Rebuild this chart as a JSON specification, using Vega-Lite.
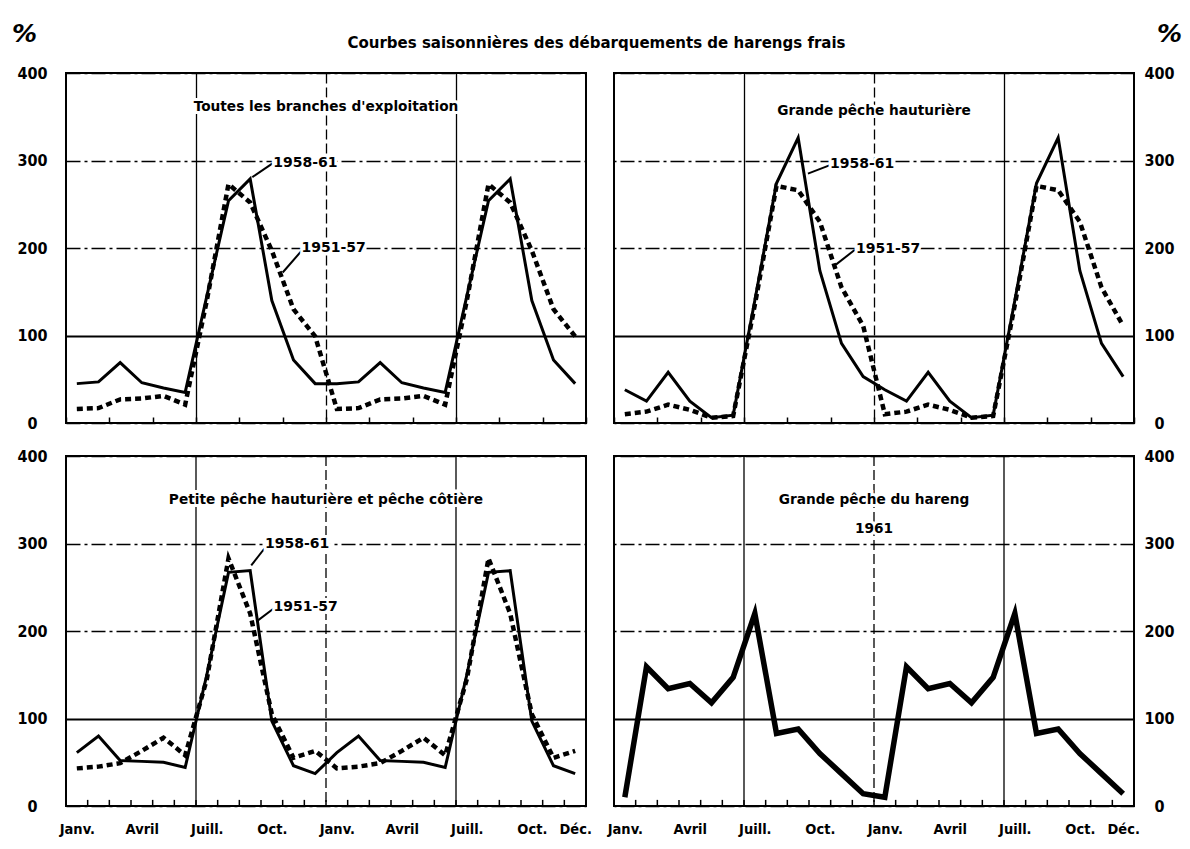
{
  "$schema": "https://vega.github.io/schema/vega-lite/v6.json",
  "padding": {"left": 10, "top": 20, "right": 5, "bottom": 5},
  "background": "white",
  "title": {"text": "Courbes saisonnières des débarquements de harengs frais", "font": "DejaVu Sans", "fontSize": 15, "fontWeight": "bold", "color": "black", "anchor": "middle", "offset": -31},
  "config": {
    "view": {"stroke": "black", "strokeWidth": 2},
    "axis": {"labelColor": "black", "labelFont": "DejaVu Sans Condensed, DejaVu Sans", "labelFontWeight": "bold", "titleColor": "black"}
  },
  "datasets": {
    "curves": [
      {"panel":"TL","series":"1958-61","month":1,"value":45},{"panel":"TL","series":"1958-61","month":2,"value":47},{"panel":"TL","series":"1958-61","month":3,"value":69},{"panel":"TL","series":"1958-61","month":4,"value":46},{"panel":"TL","series":"1958-61","month":5,"value":40},{"panel":"TL","series":"1958-61","month":6,"value":35},{"panel":"TL","series":"1958-61","month":7,"value":145},{"panel":"TL","series":"1958-61","month":8,"value":254},{"panel":"TL","series":"1958-61","month":9,"value":279},{"panel":"TL","series":"1958-61","month":10,"value":140},{"panel":"TL","series":"1958-61","month":11,"value":72},{"panel":"TL","series":"1958-61","month":12,"value":45},
      {"panel":"TL","series":"1958-61","month":13,"value":45},{"panel":"TL","series":"1958-61","month":14,"value":47},{"panel":"TL","series":"1958-61","month":15,"value":69},{"panel":"TL","series":"1958-61","month":16,"value":46},{"panel":"TL","series":"1958-61","month":17,"value":40},{"panel":"TL","series":"1958-61","month":18,"value":35},{"panel":"TL","series":"1958-61","month":19,"value":145},{"panel":"TL","series":"1958-61","month":20,"value":254},{"panel":"TL","series":"1958-61","month":21,"value":279},{"panel":"TL","series":"1958-61","month":22,"value":140},{"panel":"TL","series":"1958-61","month":23,"value":72},{"panel":"TL","series":"1958-61","month":24,"value":45},
      {"panel":"TL","series":"1951-57","month":1,"value":16},{"panel":"TL","series":"1951-57","month":2,"value":17},{"panel":"TL","series":"1951-57","month":3,"value":27},{"panel":"TL","series":"1951-57","month":4,"value":28},{"panel":"TL","series":"1951-57","month":5,"value":31},{"panel":"TL","series":"1951-57","month":6,"value":21},{"panel":"TL","series":"1951-57","month":7,"value":140},{"panel":"TL","series":"1951-57","month":8,"value":273},{"panel":"TL","series":"1951-57","month":9,"value":252},{"panel":"TL","series":"1951-57","month":10,"value":197},{"panel":"TL","series":"1951-57","month":11,"value":130},{"panel":"TL","series":"1951-57","month":12,"value":99},
      {"panel":"TL","series":"1951-57","month":13,"value":16},{"panel":"TL","series":"1951-57","month":14,"value":17},{"panel":"TL","series":"1951-57","month":15,"value":27},{"panel":"TL","series":"1951-57","month":16,"value":28},{"panel":"TL","series":"1951-57","month":17,"value":31},{"panel":"TL","series":"1951-57","month":18,"value":21},{"panel":"TL","series":"1951-57","month":19,"value":140},{"panel":"TL","series":"1951-57","month":20,"value":273},{"panel":"TL","series":"1951-57","month":21,"value":252},{"panel":"TL","series":"1951-57","month":22,"value":197},{"panel":"TL","series":"1951-57","month":23,"value":130},{"panel":"TL","series":"1951-57","month":24,"value":99},
      {"panel":"TR","series":"1958-61","month":1,"value":38},{"panel":"TR","series":"1958-61","month":2,"value":25},{"panel":"TR","series":"1958-61","month":3,"value":58},{"panel":"TR","series":"1958-61","month":4,"value":25},{"panel":"TR","series":"1958-61","month":5,"value":6},{"panel":"TR","series":"1958-61","month":6,"value":9},{"panel":"TR","series":"1958-61","month":7,"value":140},{"panel":"TR","series":"1958-61","month":8,"value":274},{"panel":"TR","series":"1958-61","month":9,"value":326},{"panel":"TR","series":"1958-61","month":10,"value":174},{"panel":"TR","series":"1958-61","month":11,"value":91},{"panel":"TR","series":"1958-61","month":12,"value":53},
      {"panel":"TR","series":"1958-61","month":13,"value":38},{"panel":"TR","series":"1958-61","month":14,"value":25},{"panel":"TR","series":"1958-61","month":15,"value":58},{"panel":"TR","series":"1958-61","month":16,"value":25},{"panel":"TR","series":"1958-61","month":17,"value":6},{"panel":"TR","series":"1958-61","month":18,"value":9},{"panel":"TR","series":"1958-61","month":19,"value":140},{"panel":"TR","series":"1958-61","month":20,"value":274},{"panel":"TR","series":"1958-61","month":21,"value":326},{"panel":"TR","series":"1958-61","month":22,"value":174},{"panel":"TR","series":"1958-61","month":23,"value":91},{"panel":"TR","series":"1958-61","month":24,"value":53},
      {"panel":"TR","series":"1951-57","month":1,"value":10},{"panel":"TR","series":"1951-57","month":2,"value":13},{"panel":"TR","series":"1951-57","month":3,"value":21},{"panel":"TR","series":"1951-57","month":4,"value":15},{"panel":"TR","series":"1951-57","month":5,"value":6},{"panel":"TR","series":"1951-57","month":6,"value":8},{"panel":"TR","series":"1951-57","month":7,"value":135},{"panel":"TR","series":"1951-57","month":8,"value":271},{"panel":"TR","series":"1951-57","month":9,"value":266},{"panel":"TR","series":"1951-57","month":10,"value":230},{"panel":"TR","series":"1951-57","month":11,"value":155},{"panel":"TR","series":"1951-57","month":12,"value":111},
      {"panel":"TR","series":"1951-57","month":13,"value":10},{"panel":"TR","series":"1951-57","month":14,"value":13},{"panel":"TR","series":"1951-57","month":15,"value":21},{"panel":"TR","series":"1951-57","month":16,"value":15},{"panel":"TR","series":"1951-57","month":17,"value":6},{"panel":"TR","series":"1951-57","month":18,"value":8},{"panel":"TR","series":"1951-57","month":19,"value":135},{"panel":"TR","series":"1951-57","month":20,"value":271},{"panel":"TR","series":"1951-57","month":21,"value":266},{"panel":"TR","series":"1951-57","month":22,"value":230},{"panel":"TR","series":"1951-57","month":23,"value":155},{"panel":"TR","series":"1951-57","month":24,"value":111},
      {"panel":"BL","series":"1958-61","month":1,"value":61},{"panel":"BL","series":"1958-61","month":2,"value":80},{"panel":"BL","series":"1958-61","month":3,"value":52},{"panel":"BL","series":"1958-61","month":4,"value":51},{"panel":"BL","series":"1958-61","month":5,"value":50},{"panel":"BL","series":"1958-61","month":6,"value":44},{"panel":"BL","series":"1958-61","month":7,"value":150},{"panel":"BL","series":"1958-61","month":8,"value":267},{"panel":"BL","series":"1958-61","month":9,"value":269},{"panel":"BL","series":"1958-61","month":10,"value":97},{"panel":"BL","series":"1958-61","month":11,"value":46},{"panel":"BL","series":"1958-61","month":12,"value":37},
      {"panel":"BL","series":"1958-61","month":13,"value":61},{"panel":"BL","series":"1958-61","month":14,"value":80},{"panel":"BL","series":"1958-61","month":15,"value":52},{"panel":"BL","series":"1958-61","month":16,"value":51},{"panel":"BL","series":"1958-61","month":17,"value":50},{"panel":"BL","series":"1958-61","month":18,"value":44},{"panel":"BL","series":"1958-61","month":19,"value":150},{"panel":"BL","series":"1958-61","month":20,"value":267},{"panel":"BL","series":"1958-61","month":21,"value":269},{"panel":"BL","series":"1958-61","month":22,"value":97},{"panel":"BL","series":"1958-61","month":23,"value":46},{"panel":"BL","series":"1958-61","month":24,"value":37},
      {"panel":"BL","series":"1951-57","month":1,"value":43},{"panel":"BL","series":"1951-57","month":2,"value":45},{"panel":"BL","series":"1951-57","month":3,"value":49},{"panel":"BL","series":"1951-57","month":4,"value":63},{"panel":"BL","series":"1951-57","month":5,"value":78},{"panel":"BL","series":"1951-57","month":6,"value":58},{"panel":"BL","series":"1951-57","month":7,"value":145},{"panel":"BL","series":"1951-57","month":8,"value":283},{"panel":"BL","series":"1951-57","month":9,"value":220},{"panel":"BL","series":"1951-57","month":10,"value":105},{"panel":"BL","series":"1951-57","month":11,"value":55},{"panel":"BL","series":"1951-57","month":12,"value":63},
      {"panel":"BL","series":"1951-57","month":13,"value":43},{"panel":"BL","series":"1951-57","month":14,"value":45},{"panel":"BL","series":"1951-57","month":15,"value":49},{"panel":"BL","series":"1951-57","month":16,"value":63},{"panel":"BL","series":"1951-57","month":17,"value":78},{"panel":"BL","series":"1951-57","month":18,"value":58},{"panel":"BL","series":"1951-57","month":19,"value":145},{"panel":"BL","series":"1951-57","month":20,"value":283},{"panel":"BL","series":"1951-57","month":21,"value":220},{"panel":"BL","series":"1951-57","month":22,"value":105},{"panel":"BL","series":"1951-57","month":23,"value":55},{"panel":"BL","series":"1951-57","month":24,"value":63},
      {"panel":"BR","series":"1961","month":1,"value":10},{"panel":"BR","series":"1961","month":2,"value":159},{"panel":"BR","series":"1961","month":3,"value":134},{"panel":"BR","series":"1961","month":4,"value":140},{"panel":"BR","series":"1961","month":5,"value":118},{"panel":"BR","series":"1961","month":6,"value":147},{"panel":"BR","series":"1961","month":7,"value":220},{"panel":"BR","series":"1961","month":8,"value":83},{"panel":"BR","series":"1961","month":9,"value":88},{"panel":"BR","series":"1961","month":10,"value":60},{"panel":"BR","series":"1961","month":11,"value":37},{"panel":"BR","series":"1961","month":12,"value":14},
      {"panel":"BR","series":"1961","month":13,"value":10},{"panel":"BR","series":"1961","month":14,"value":159},{"panel":"BR","series":"1961","month":15,"value":134},{"panel":"BR","series":"1961","month":16,"value":140},{"panel":"BR","series":"1961","month":17,"value":118},{"panel":"BR","series":"1961","month":18,"value":147},{"panel":"BR","series":"1961","month":19,"value":220},{"panel":"BR","series":"1961","month":20,"value":83},{"panel":"BR","series":"1961","month":21,"value":88},{"panel":"BR","series":"1961","month":22,"value":60},{"panel":"BR","series":"1961","month":23,"value":37},{"panel":"BR","series":"1961","month":24,"value":14}
    ],
    "notes": [
      {"panel":"TL","label":"1958-61","month":11.55,"value":297},
      {"panel":"TL","label":"1951-57","month":12.85,"value":200},
      {"panel":"TR","label":"1958-61","month":11.95,"value":296},
      {"panel":"TR","label":"1951-57","month":13.15,"value":199},
      {"panel":"BL","label":"1958-61","month":11.17,"value":299},
      {"panel":"BL","label":"1951-57","month":11.56,"value":228}
    ],
    "leaders": [
      {"panel":"TL","month":10.05,"value":297,"month2":9.1,"value2":281},
      {"panel":"TL","month":11.45,"value":199,"month2":10.5,"value2":172},
      {"panel":"TR","month":10.5,"value":295,"month2":9.45,"value2":285},
      {"panel":"TR","month":11.62,"value":198,"month2":10.74,"value2":181},
      {"panel":"BL","month":9.65,"value":294,"month2":9.05,"value2":275},
      {"panel":"BL","month":10.1,"value":226,"month2":9.3,"value2":211}
    ],
    "titles": [
      {"panel":"TL","text":"Toutes les branches d'exploitation","month":12.5,"value":361},
      {"panel":"TR","text":"Grande pêche hauturière","month":12.5,"value":357},
      {"panel":"BL","text":"Petite pêche hauturière et pêche côtière","month":12.5,"value":350},
      {"panel":"BR","text":"Grande pêche du hareng","month":12.5,"value":350},
      {"panel":"BR","text":"1961","month":12.5,"value":317}
    ],
    "boundaries": [
      {"month":1.5},{"month":2.5},{"month":3.5},{"month":4.5},{"month":5.5},{"month":6.5},{"month":7.5},{"month":8.5},{"month":9.5},{"month":10.5},{"month":11.5},{"month":12.5},
      {"month":13.5},{"month":14.5},{"month":15.5},{"month":16.5},{"month":17.5},{"month":18.5},{"month":19.5},{"month":20.5},{"month":21.5},{"month":22.5},{"month":23.5}
    ]
  },
  "columns": 2,
  "spacing": {"row": 33, "column": 28},
  "bounds": "flush",
  "concat": [
    {
      "width": 520, "height": 350,
      "layer": [
        {"data": {"name": "curves"}, "transform": [{"filter": "datum.panel == 'TL' && datum.series == '1951-57'"}],
         "mark": {"type": "line", "color": "black", "strokeWidth": 4.5, "strokeDash": [6, 4]},
         "encoding": {
           "x": {"field": "month", "type": "quantitative", "scale": {"domain": [0.5, 24.5], "nice": false, "zero": false},
                 "axis": {"values": [0.5,1.5,2.5,3.5,4.5,5.5,6.5,7.5,8.5,9.5,10.5,11.5,12.5,13.5,14.5,15.5,16.5,17.5,18.5,19.5,20.5,21.5,22.5,23.5,24.5], "title": null, "labels": false, "domain": false, "ticks": true, "tickSize": -6, "tickWidth": 1.5, "tickColor": "black", "grid": true, "gridColor": "black", "gridWidth": 1.3, "gridOpacity": {"condition": {"test": "datum.value == 6.5 || datum.value == 12.5 || datum.value == 18.5", "value": 1}, "value": 0}, "gridDash": {"condition": {"test": "datum.value == 12.5", "value": [10, 4]}, "value": [1, 0]}}},
           "y": {"field": "value", "type": "quantitative", "scale": {"domain": [0, 400], "nice": false},
                 "axis": {"orient": "left", "values": [0, 100, 200, 300, 400], "ticks": false, "domain": false, "labelAlign": "center", "labelBaseline": "middle", "labelPadding": 34, "labelFontSize": 16, "grid": true, "gridColor": "black", "gridWidth": {"condition": {"test": "datum.value == 100", "value": 2}, "value": 1.3}, "gridDash": {"condition": {"test": "datum.value == 100", "value": [1, 0]}, "value": [14, 4, 3, 4]}, "title": "%", "titleAngle": 0, "titleX": -42, "titleY": -40, "titleAlign": "center", "titleBaseline": "middle", "titleFont": "DejaVu Sans", "titleFontSize": 25, "titleFontWeight": "bold", "titleFontStyle": "italic"}}
         }},
        {"data": {"name": "curves"}, "transform": [{"filter": "datum.panel == 'TL' && datum.series == '1958-61'"}],
         "mark": {"type": "line", "color": "black", "strokeWidth": 3},
         "encoding": {"x": {"field": "month", "type": "quantitative"}, "y": {"field": "value", "type": "quantitative"}}},
        {"data": {"name": "leaders"}, "transform": [{"filter": "datum.panel == 'TL'"}],
         "mark": {"type": "rule", "color": "black", "strokeWidth": 2},
         "encoding": {"x": {"field": "month", "type": "quantitative"}, "y": {"field": "value", "type": "quantitative"}, "x2": {"field": "month2"}, "y2": {"field": "value2"}}},
        {"data": {"name": "notes"}, "transform": [{"filter": "datum.panel == 'TL'"}],
         "mark": {"type": "text", "font": "DejaVu Sans", "fontSize": 14, "fontWeight": "bold", "stroke": "white", "strokeWidth": 6, "fill": "white"},
         "encoding": {"x": {"field": "month", "type": "quantitative"}, "y": {"field": "value", "type": "quantitative"}, "text": {"field": "label"}}},
        {"data": {"name": "notes"}, "transform": [{"filter": "datum.panel == 'TL'"}],
         "mark": {"type": "text", "font": "DejaVu Sans", "fontSize": 14, "fontWeight": "bold", "color": "black"},
         "encoding": {"x": {"field": "month", "type": "quantitative"}, "y": {"field": "value", "type": "quantitative"}, "text": {"field": "label"}}},
        {"data": {"name": "titles"}, "transform": [{"filter": "datum.panel == 'TL'"}],
         "mark": {"type": "text", "font": "DejaVu Sans", "fontSize": 13.7, "fontWeight": "bold", "stroke": "white", "strokeWidth": 6, "fill": "white"},
         "encoding": {"x": {"field": "month", "type": "quantitative"}, "y": {"field": "value", "type": "quantitative"}, "text": {"field": "text"}}},
        {"data": {"name": "titles"}, "transform": [{"filter": "datum.panel == 'TL'"}],
         "mark": {"type": "text", "font": "DejaVu Sans", "fontSize": 13.7, "fontWeight": "bold", "color": "black"},
         "encoding": {"x": {"field": "month", "type": "quantitative"}, "y": {"field": "value", "type": "quantitative"}, "text": {"field": "text"}}}
      ]
    },
    {
      "width": 520, "height": 350,
      "layer": [
        {"data": {"name": "curves"}, "transform": [{"filter": "datum.panel == 'TR' && datum.series == '1951-57'"}],
         "mark": {"type": "line", "color": "black", "strokeWidth": 4.5, "strokeDash": [6, 4]},
         "encoding": {
           "x": {"field": "month", "type": "quantitative", "scale": {"domain": [0.5, 24.5], "nice": false, "zero": false},
                 "axis": {"values": [0.5,1.5,2.5,3.5,4.5,5.5,6.5,7.5,8.5,9.5,10.5,11.5,12.5,13.5,14.5,15.5,16.5,17.5,18.5,19.5,20.5,21.5,22.5,23.5,24.5], "title": null, "labels": false, "domain": false, "ticks": true, "tickSize": -6, "tickWidth": 1.5, "tickColor": "black", "grid": true, "gridColor": "black", "gridWidth": 1.3, "gridOpacity": {"condition": {"test": "datum.value == 6.5 || datum.value == 12.5 || datum.value == 18.5", "value": 1}, "value": 0}, "gridDash": {"condition": {"test": "datum.value == 12.5", "value": [10, 4]}, "value": [1, 0]}}},
           "y": {"field": "value", "type": "quantitative", "scale": {"domain": [0, 400], "nice": false},
                 "axis": {"orient": "right", "values": [0, 100, 200, 300, 400], "ticks": false, "domain": false, "labelAlign": "center", "labelBaseline": "middle", "labelPadding": 25, "labelFontSize": 16, "grid": true, "gridColor": "black", "gridWidth": {"condition": {"test": "datum.value == 100", "value": 2}, "value": 1.3}, "gridDash": {"condition": {"test": "datum.value == 100", "value": [1, 0]}, "value": [14, 4, 3, 4]}, "title": "%", "titleAngle": 0, "titleX": 35, "titleY": -40, "titleAlign": "center", "titleBaseline": "middle", "titleFont": "DejaVu Sans", "titleFontSize": 25, "titleFontWeight": "bold", "titleFontStyle": "italic"}}
         }},
        {"data": {"name": "curves"}, "transform": [{"filter": "datum.panel == 'TR' && datum.series == '1958-61'"}],
         "mark": {"type": "line", "color": "black", "strokeWidth": 3},
         "encoding": {"x": {"field": "month", "type": "quantitative"}, "y": {"field": "value", "type": "quantitative"}}},
        {"data": {"name": "leaders"}, "transform": [{"filter": "datum.panel == 'TR'"}],
         "mark": {"type": "rule", "color": "black", "strokeWidth": 2},
         "encoding": {"x": {"field": "month", "type": "quantitative"}, "y": {"field": "value", "type": "quantitative"}, "x2": {"field": "month2"}, "y2": {"field": "value2"}}},
        {"data": {"name": "notes"}, "transform": [{"filter": "datum.panel == 'TR'"}],
         "mark": {"type": "text", "font": "DejaVu Sans", "fontSize": 14, "fontWeight": "bold", "stroke": "white", "strokeWidth": 6, "fill": "white"},
         "encoding": {"x": {"field": "month", "type": "quantitative"}, "y": {"field": "value", "type": "quantitative"}, "text": {"field": "label"}}},
        {"data": {"name": "notes"}, "transform": [{"filter": "datum.panel == 'TR'"}],
         "mark": {"type": "text", "font": "DejaVu Sans", "fontSize": 14, "fontWeight": "bold", "color": "black"},
         "encoding": {"x": {"field": "month", "type": "quantitative"}, "y": {"field": "value", "type": "quantitative"}, "text": {"field": "label"}}},
        {"data": {"name": "titles"}, "transform": [{"filter": "datum.panel == 'TR'"}],
         "mark": {"type": "text", "font": "DejaVu Sans", "fontSize": 13.7, "fontWeight": "bold", "stroke": "white", "strokeWidth": 6, "fill": "white"},
         "encoding": {"x": {"field": "month", "type": "quantitative"}, "y": {"field": "value", "type": "quantitative"}, "text": {"field": "text"}}},
        {"data": {"name": "titles"}, "transform": [{"filter": "datum.panel == 'TR'"}],
         "mark": {"type": "text", "font": "DejaVu Sans", "fontSize": 13.7, "fontWeight": "bold", "color": "black"},
         "encoding": {"x": {"field": "month", "type": "quantitative"}, "y": {"field": "value", "type": "quantitative"}, "text": {"field": "text"}}}
      ]
    },
    {
      "width": 520, "height": 350,
      "layer": [
        {"data": {"name": "boundaries"}, "transform": [{"filter": "datum.month == 6.5 || datum.month == 18.5"}],
         "mark": {"type": "rule", "color": "black", "strokeWidth": 1.3},
         "encoding": {"x": {"field": "month", "type": "quantitative"}}},
        {"data": {"name": "boundaries"}, "transform": [{"filter": "datum.month == 12.5"}],
         "mark": {"type": "rule", "color": "black", "strokeWidth": 1.3, "strokeDash": [10, 4]},
         "encoding": {"x": {"field": "month", "type": "quantitative"}}},
        {"data": {"name": "boundaries"},
         "mark": {"type": "rule", "color": "black", "strokeWidth": 1.5},
         "encoding": {"x": {"field": "month", "type": "quantitative"}, "y": {"datum": 0, "type": "quantitative"}, "y2": {"datum": 7}}},
        {"data": {"name": "curves"}, "transform": [{"filter": "datum.panel == 'BL' && datum.series == '1951-57'"}],
         "mark": {"type": "line", "color": "black", "strokeWidth": 4.5, "strokeDash": [6, 4]},
         "encoding": {
           "x": {"field": "month", "type": "quantitative", "scale": {"domain": [0.5, 24.5], "nice": false, "zero": false},
                 "axis": {"values": [1, 4, 7, 10, 13, 16, 19, 22, 24], "title": null, "labelExpr": "datum.value == 1 ? 'Janv.' : datum.value == 4 ? 'Avril' : datum.value == 7 ? 'Juill.' : datum.value == 10 ? 'Oct.' : datum.value == 13 ? 'Janv.' : datum.value == 16 ? 'Avril' : datum.value == 19 ? 'Juill.' : datum.value == 22 ? 'Oct.' : 'Déc.'", "labelPadding": 16, "labelFontSize": 14.5, "labelFlush": false, "labelOverlap": false, "labelBound": false, "domain": false, "ticks": false, "grid": false}},
           "y": {"field": "value", "type": "quantitative", "scale": {"domain": [0, 400], "nice": false},
                 "axis": {"orient": "left", "values": [0, 100, 200, 300, 400], "ticks": false, "domain": false, "labelAlign": "center", "labelBaseline": "middle", "labelPadding": 34, "labelFontSize": 16, "grid": true, "gridColor": "black", "gridWidth": {"condition": {"test": "datum.value == 100", "value": 2}, "value": 1.3}, "gridDash": {"condition": {"test": "datum.value == 100", "value": [1, 0]}, "value": [14, 4, 3, 4]}, "title": null}}
         }},
        {"data": {"name": "curves"}, "transform": [{"filter": "datum.panel == 'BL' && datum.series == '1958-61'"}],
         "mark": {"type": "line", "color": "black", "strokeWidth": 3},
         "encoding": {"x": {"field": "month", "type": "quantitative"}, "y": {"field": "value", "type": "quantitative"}}},
        {"data": {"name": "leaders"}, "transform": [{"filter": "datum.panel == 'BL'"}],
         "mark": {"type": "rule", "color": "black", "strokeWidth": 2},
         "encoding": {"x": {"field": "month", "type": "quantitative"}, "y": {"field": "value", "type": "quantitative"}, "x2": {"field": "month2"}, "y2": {"field": "value2"}}},
        {"data": {"name": "notes"}, "transform": [{"filter": "datum.panel == 'BL'"}],
         "mark": {"type": "text", "font": "DejaVu Sans", "fontSize": 14, "fontWeight": "bold", "stroke": "white", "strokeWidth": 6, "fill": "white"},
         "encoding": {"x": {"field": "month", "type": "quantitative"}, "y": {"field": "value", "type": "quantitative"}, "text": {"field": "label"}}},
        {"data": {"name": "notes"}, "transform": [{"filter": "datum.panel == 'BL'"}],
         "mark": {"type": "text", "font": "DejaVu Sans", "fontSize": 14, "fontWeight": "bold", "color": "black"},
         "encoding": {"x": {"field": "month", "type": "quantitative"}, "y": {"field": "value", "type": "quantitative"}, "text": {"field": "label"}}},
        {"data": {"name": "titles"}, "transform": [{"filter": "datum.panel == 'BL'"}],
         "mark": {"type": "text", "font": "DejaVu Sans", "fontSize": 13.7, "fontWeight": "bold", "stroke": "white", "strokeWidth": 6, "fill": "white"},
         "encoding": {"x": {"field": "month", "type": "quantitative"}, "y": {"field": "value", "type": "quantitative"}, "text": {"field": "text"}}},
        {"data": {"name": "titles"}, "transform": [{"filter": "datum.panel == 'BL'"}],
         "mark": {"type": "text", "font": "DejaVu Sans", "fontSize": 13.7, "fontWeight": "bold", "color": "black"},
         "encoding": {"x": {"field": "month", "type": "quantitative"}, "y": {"field": "value", "type": "quantitative"}, "text": {"field": "text"}}}
      ]
    },
    {
      "width": 520, "height": 350,
      "layer": [
        {"data": {"name": "boundaries"}, "transform": [{"filter": "datum.month == 6.5 || datum.month == 18.5"}],
         "mark": {"type": "rule", "color": "black", "strokeWidth": 1.3},
         "encoding": {"x": {"field": "month", "type": "quantitative"}}},
        {"data": {"name": "boundaries"}, "transform": [{"filter": "datum.month == 12.5"}],
         "mark": {"type": "rule", "color": "black", "strokeWidth": 1.3, "strokeDash": [10, 4]},
         "encoding": {"x": {"field": "month", "type": "quantitative"}}},
        {"data": {"name": "boundaries"},
         "mark": {"type": "rule", "color": "black", "strokeWidth": 1.5},
         "encoding": {"x": {"field": "month", "type": "quantitative"}, "y": {"datum": 0, "type": "quantitative"}, "y2": {"datum": 7}}},
        {"data": {"name": "curves"}, "transform": [{"filter": "datum.panel == 'BR'"}],
         "mark": {"type": "line", "color": "black", "strokeWidth": 5.5},
         "encoding": {
           "x": {"field": "month", "type": "quantitative", "scale": {"domain": [0.5, 24.5], "nice": false, "zero": false},
                 "axis": {"values": [1, 4, 7, 10, 13, 16, 19, 22, 24], "title": null, "labelExpr": "datum.value == 1 ? 'Janv.' : datum.value == 4 ? 'Avril' : datum.value == 7 ? 'Juill.' : datum.value == 10 ? 'Oct.' : datum.value == 13 ? 'Janv.' : datum.value == 16 ? 'Avril' : datum.value == 19 ? 'Juill.' : datum.value == 22 ? 'Oct.' : 'Déc.'", "labelPadding": 16, "labelFontSize": 14.5, "labelFlush": false, "labelOverlap": false, "labelBound": false, "domain": false, "ticks": false, "grid": false}},
           "y": {"field": "value", "type": "quantitative", "scale": {"domain": [0, 400], "nice": false},
                 "axis": {"orient": "right", "values": [0, 100, 200, 300, 400], "ticks": false, "domain": false, "labelAlign": "center", "labelBaseline": "middle", "labelPadding": 25, "labelFontSize": 16, "grid": true, "gridColor": "black", "gridWidth": {"condition": {"test": "datum.value == 100", "value": 2}, "value": 1.3}, "gridDash": {"condition": {"test": "datum.value == 100", "value": [1, 0]}, "value": [14, 4, 3, 4]}, "title": null}}
         }},
        {"data": {"name": "titles"}, "transform": [{"filter": "datum.panel == 'BR'"}],
         "mark": {"type": "text", "font": "DejaVu Sans", "fontSize": 13.7, "fontWeight": "bold", "stroke": "white", "strokeWidth": 6, "fill": "white"},
         "encoding": {"x": {"field": "month", "type": "quantitative"}, "y": {"field": "value", "type": "quantitative"}, "text": {"field": "text"}}},
        {"data": {"name": "titles"}, "transform": [{"filter": "datum.panel == 'BR'"}],
         "mark": {"type": "text", "font": "DejaVu Sans", "fontSize": 13.7, "fontWeight": "bold", "color": "black"},
         "encoding": {"x": {"field": "month", "type": "quantitative"}, "y": {"field": "value", "type": "quantitative"}, "text": {"field": "text"}}}
      ]
    }
  ]
}
